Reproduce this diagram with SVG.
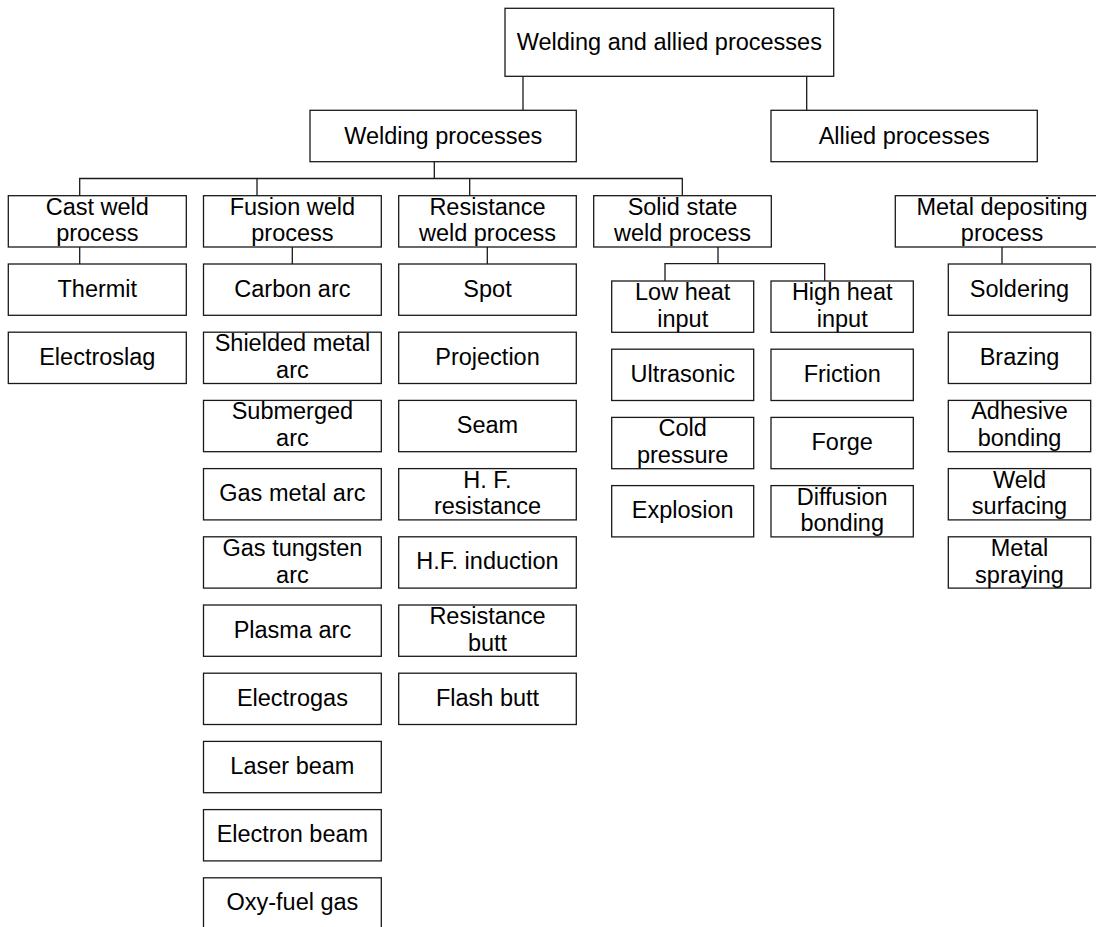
<svg xmlns="http://www.w3.org/2000/svg" width="1096" height="927" viewBox="0 0 1096 927">
<style>
rect{fill:#fff;stroke:#1a1a1a;stroke-width:1.3}
text{font-family:"Liberation Sans",Arial,sans-serif;font-size:23.5px;fill:#000;text-anchor:middle}
#connectors path{fill:none;stroke:#1a1a1a;stroke-width:1.3}
</style>
<rect x="0" y="0" width="1096" height="927" style="stroke:none"/>
<g id="connectors">
<path d="M523 76.3V110.3M806.7 76.3V110.3"/>
<path d="M434.3 161.7V178.5M79.7 195.7V178.5H682.3V195.7M257 178.5V195.7M469.7 178.5V195.7"/>
<path d="M79.7 247V264M292.3 247V264M487.3 247V264"/>
<path d="M718 247V263.7M665 281V263.7H824.7V281"/>
<path d="M1002 247V263.7"/>
</g>
<g id="n-root"><rect x="505" y="8.3" width="328.7" height="68"/><text x="669.3" y="50">Welding and allied processes</text></g>
<g id="n-welding"><rect x="310" y="110.3" width="266.3" height="51.4"/><text x="443.2" y="143.5">Welding processes</text></g>
<g id="n-allied"><rect x="771" y="110.3" width="266.3" height="51.4"/><text x="904.2" y="143.5">Allied processes</text></g>

<g id="n-cast"><rect x="8.3" y="195.7" width="178" height="51.3"/><text x="97.3" y="214.7">Cast weld</text><text x="97.3" y="241.4">process</text></g>
<g id="n-fusion"><rect x="203.5" y="195.7" width="177.8" height="51.3"/><text x="292.4" y="214.7">Fusion weld</text><text x="292.4" y="241.4">process</text></g>
<g id="n-resistance"><rect x="398.7" y="195.7" width="177.6" height="51.3"/><text x="487.5" y="214.7">Resistance</text><text x="487.5" y="241.4">weld process</text></g>
<g id="n-solid"><rect x="593.7" y="195.7" width="177.6" height="51.3"/><text x="682.5" y="214.7">Solid state</text><text x="682.5" y="241.4">weld process</text></g>
<g id="n-metaldep"><rect x="895.3" y="195.7" width="213.4" height="51.3"/><text x="1002" y="214.7">Metal depositing</text><text x="1002" y="241.4">process</text></g>

<g id="n-thermit"><rect x="8.3" y="264" width="178" height="51.3"/><text x="97.3" y="296.5">Thermit</text></g>
<g id="n-electroslag"><rect x="8.3" y="332.2" width="178" height="51.3"/><text x="97.3" y="364.7">Electroslag</text></g>

<g id="n-carbon"><rect x="203.5" y="264" width="177.8" height="51.3"/><text x="292.4" y="296.5">Carbon arc</text></g>
<g id="n-smaw"><rect x="203.5" y="332.2" width="177.8" height="51.3"/><text x="292.4" y="351.2">Shielded metal</text><text x="292.4" y="377.9">arc</text></g>
<g id="n-saw"><rect x="203.5" y="400.4" width="177.8" height="51.3"/><text x="292.4" y="419.4">Submerged</text><text x="292.4" y="446.1">arc</text></g>
<g id="n-gmaw"><rect x="203.5" y="468.6" width="177.8" height="51.3"/><text x="292.4" y="501.1">Gas metal arc</text></g>
<g id="n-gtaw"><rect x="203.5" y="536.8" width="177.8" height="51.3"/><text x="292.4" y="555.8">Gas tungsten</text><text x="292.4" y="582.5">arc</text></g>
<g id="n-plasma"><rect x="203.5" y="605" width="177.8" height="51.3"/><text x="292.4" y="637.5">Plasma arc</text></g>
<g id="n-electrogas"><rect x="203.5" y="673.2" width="177.8" height="51.3"/><text x="292.4" y="705.7">Electrogas</text></g>
<g id="n-laser"><rect x="203.5" y="741.4" width="177.8" height="51.3"/><text x="292.4" y="773.9">Laser beam</text></g>
<g id="n-electron"><rect x="203.5" y="809.6" width="177.8" height="51.3"/><text x="292.4" y="842.1">Electron beam</text></g>
<g id="n-oxyfuel"><rect x="203.5" y="877.8" width="177.8" height="51.3"/><text x="292.4" y="910.3">Oxy-fuel gas</text></g>

<g id="n-spot"><rect x="398.7" y="264" width="177.6" height="51.3"/><text x="487.5" y="296.5">Spot</text></g>
<g id="n-projection"><rect x="398.7" y="332.2" width="177.6" height="51.3"/><text x="487.5" y="364.7">Projection</text></g>
<g id="n-seam"><rect x="398.7" y="400.4" width="177.6" height="51.3"/><text x="487.5" y="432.9">Seam</text></g>
<g id="n-hfres"><rect x="398.7" y="468.6" width="177.6" height="51.3"/><text x="487.5" y="487.6">H. F.</text><text x="487.5" y="514.3">resistance</text></g>
<g id="n-hfind"><rect x="398.7" y="536.8" width="177.6" height="51.3"/><text x="487.5" y="569.3">H.F. induction</text></g>
<g id="n-resbutt"><rect x="398.7" y="605" width="177.6" height="51.3"/><text x="487.5" y="624">Resistance</text><text x="487.5" y="650.7">butt</text></g>
<g id="n-flash"><rect x="398.7" y="673.2" width="177.6" height="51.3"/><text x="487.5" y="705.7">Flash butt</text></g>

<g id="n-lowheat"><rect x="611.7" y="281" width="142" height="51.3"/><text x="682.7" y="300">Low heat</text><text x="682.7" y="326.7">input</text></g>
<g id="n-ultrasonic"><rect x="611.7" y="349.2" width="142" height="51.3"/><text x="682.7" y="381.7">Ultrasonic</text></g>
<g id="n-cold"><rect x="611.7" y="417.4" width="142" height="51.3"/><text x="682.7" y="436.4">Cold</text><text x="682.7" y="463.1">pressure</text></g>
<g id="n-explosion"><rect x="611.7" y="485.6" width="142" height="51.3"/><text x="682.7" y="518.1">Explosion</text></g>

<g id="n-highheat"><rect x="771" y="281" width="142.3" height="51.3"/><text x="842.2" y="300">High heat</text><text x="842.2" y="326.7">input</text></g>
<g id="n-friction"><rect x="771" y="349.2" width="142.3" height="51.3"/><text x="842.2" y="381.7">Friction</text></g>
<g id="n-forge"><rect x="771" y="417.4" width="142.3" height="51.3"/><text x="842.2" y="449.9">Forge</text></g>
<g id="n-diffusion"><rect x="771" y="485.6" width="142.3" height="51.3"/><text x="842.2" y="504.6">Diffusion</text><text x="842.2" y="531.3">bonding</text></g>

<g id="n-soldering"><rect x="948.3" y="264" width="142.4" height="51.3"/><text x="1019.5" y="296.5">Soldering</text></g>
<g id="n-brazing"><rect x="948.3" y="332.2" width="142.4" height="51.3"/><text x="1019.5" y="364.7">Brazing</text></g>
<g id="n-adhesive"><rect x="948.3" y="400.4" width="142.4" height="51.3"/><text x="1019.5" y="419.4">Adhesive</text><text x="1019.5" y="446.1">bonding</text></g>
<g id="n-surfacing"><rect x="948.3" y="468.6" width="142.4" height="51.3"/><text x="1019.5" y="487.6">Weld</text><text x="1019.5" y="514.3">surfacing</text></g>
<g id="n-spraying"><rect x="948.3" y="536.8" width="142.4" height="51.3"/><text x="1019.5" y="555.8">Metal</text><text x="1019.5" y="582.5">spraying</text></g>
</svg>
